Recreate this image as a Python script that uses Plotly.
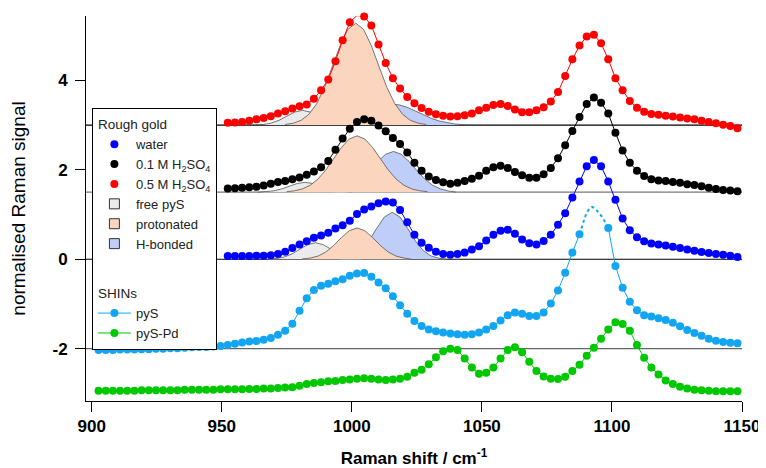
import plotly.graph_objects as go

# ---------------- data ----------------
STEP = 2.76
x_rough = [round(952.3 + STEP * i, 2) for i in range(72)]
x_shins = [round(902.62 + STEP * i, 2) for i in range(90)]

# Rough gold spectra (offset already included)
water = [0.07, 0.07, 0.07, 0.07, 0.08, 0.08, 0.09, 0.12, 0.17, 0.25, 0.33, 0.40,
         0.48, 0.53, 0.59, 0.69, 0.76, 0.86, 1.01, 1.11, 1.18, 1.25, 1.29, 1.27,
         1.10, 0.83, 0.55, 0.37, 0.26, 0.17, 0.12, 0.10, 0.12, 0.15, 0.22, 0.29,
         0.42, 0.55, 0.64, 0.66, 0.57, 0.44, 0.36, 0.33, 0.41, 0.55, 0.77, 1.03,
         1.38, 1.74, 2.08, 2.22, 2.08, 1.74, 1.33, 0.91, 0.65, 0.49, 0.40, 0.35,
         0.33, 0.31, 0.28, 0.25, 0.22, 0.19, 0.16, 0.14, 0.12, 0.10, 0.08, 0.05]
h2so4_01 = [1.58, 1.59, 1.60, 1.61, 1.62, 1.65, 1.69, 1.73, 1.75, 1.79, 1.83, 1.89,
            1.96, 2.06, 2.20, 2.45, 2.70, 2.92, 3.07, 3.13, 3.10, 2.99, 2.86, 2.71,
            2.58, 2.39, 2.16, 1.98, 1.85, 1.77, 1.72, 1.69, 1.71, 1.75, 1.80, 1.87,
            1.98, 2.06, 2.09, 2.04, 1.95, 1.88, 1.82, 1.82, 1.90, 2.04, 2.26, 2.55,
            2.87, 3.18, 3.47, 3.62, 3.50, 3.26, 2.83, 2.43, 2.16, 1.98, 1.86, 1.79,
            1.76, 1.75, 1.73, 1.71, 1.68, 1.66, 1.63, 1.60, 1.57, 1.55, 1.54, 1.52]
h2so4_05 = [3.05, 3.06, 3.07, 3.10, 3.13, 3.16, 3.20, 3.26, 3.31, 3.37, 3.42, 3.46,
            3.59, 3.78, 4.02, 4.43, 4.90, 5.30, 5.45, 5.43, 5.23, 4.80, 4.39, 4.05,
            3.82, 3.63, 3.49, 3.38, 3.30, 3.24, 3.21, 3.19, 3.20, 3.22, 3.26, 3.33,
            3.39, 3.45, 3.47, 3.43, 3.35, 3.29, 3.29, 3.33, 3.40, 3.53, 3.74, 4.10,
            4.47, 4.78, 4.98, 5.02, 4.83, 4.47, 4.05, 3.78, 3.54, 3.39, 3.30, 3.25,
            3.23, 3.21, 3.19, 3.17, 3.15, 3.13, 3.10, 3.07, 3.04, 3.01, 2.98, 2.93]

# SHINs spectra
pys = [-2.03, -2.03, -2.03, -2.02, -2.02, -2.02, -2.01, -2.01, -2.00, -2.00,
       -1.99, -1.99, -1.98, -1.97, -1.96, -1.96, -1.95, -1.94, -1.92, -1.89,
       -1.86, -1.84, -1.83, -1.80, -1.76, -1.69, -1.60, -1.44, -1.15, -0.87,
       -0.69, -0.59, -0.55, -0.49, -0.45, -0.37, -0.32, -0.31, -0.39, -0.52,
       -0.65, -0.83, -1.03, -1.22, -1.38, -1.49, -1.57, -1.61, -1.64, -1.66,
       -1.68, -1.69, -1.68, -1.64, -1.57, -1.49, -1.37, -1.25, -1.19, -1.22,
       -1.27, -1.27, -1.19, -0.99, -0.70, -0.30, 0.15, 0.56, None, None,
       None, 0.70, -0.15, -0.64, -0.95, -1.14, -1.25, -1.28, -1.32, -1.36,
       -1.42, -1.50, -1.58, -1.65, -1.71, -1.78, -1.82, -1.85, -1.87, -1.88]
pys_peak_x = [1087.54, 1088.8, 1090.1, 1091.3, 1092.4, 1093.5, 1094.6, 1095.9, 1097.2, 1098.58]
pys_peak_y = [0.56, 0.80, 1.02, 1.13, 1.17, 1.14, 1.07, 0.97, 0.85, 0.70]
pys_pd = [-2.94, -2.94, -2.94, -2.94, -2.94, -2.94, -2.93, -2.93, -2.93, -2.93,
          -2.93, -2.93, -2.92, -2.92, -2.92, -2.92, -2.92, -2.91, -2.91, -2.91,
          -2.91, -2.90, -2.90, -2.89, -2.89, -2.88, -2.87, -2.86, -2.83, -2.79,
          -2.77, -2.75, -2.73, -2.72, -2.70, -2.69, -2.67, -2.66, -2.67, -2.69,
          -2.70, -2.69, -2.67, -2.63, -2.54, -2.47, -2.35, -2.19, -2.06, -2.00,
          -2.03, -2.22, -2.42, -2.56, -2.54, -2.42, -2.22, -2.03, -1.97, -2.08,
          -2.29, -2.50, -2.62, -2.67, -2.68, -2.63, -2.50, -2.36, -2.16, -1.98,
          -1.78, -1.57, -1.41, -1.45, -1.60, -1.92, -2.20, -2.42, -2.58, -2.71,
          -2.79, -2.85, -2.89, -2.92, -2.93, -2.94, -2.95, -2.95, -2.95, -2.95]

# baselines of the stacked spectra
baselines = [3.0, 1.5, 0.0, -2.0]
baseline_colors = ["#000000", "#777777", "#000000", "#666666"]

# fitted components (height above each spectrum's baseline)
red_free_x = [963 + 3 * i for i in range(13)]
red_free_y = [0.004, 0.015, 0.045, 0.107, 0.200, 0.291, 0.33, 0.291, 0.200, 0.107, 0.045, 0.015, 0.004]
red_prot_x = [974.5 + 3 * i for i in range(19)]
red_prot_y = [0.015, 0.042, 0.107, 0.242, 0.481, 0.841, 1.302, 1.778, 2.143, 2.28,
              2.143, 1.778, 1.302, 0.841, 0.481, 0.242, 0.107, 0.042, 0.015]
red_hb_x = [985.5 + 3 * i for i in range(21)]
red_hb_y = [0.005, 0.012, 0.026, 0.052, 0.093, 0.153, 0.229, 0.313, 0.392, 0.449, 0.47,
            0.449, 0.392, 0.313, 0.229, 0.153, 0.093, 0.052, 0.026, 0.012, 0.005]

blk_free_x = [964 + 3 * i for i in range(13)]
blk_free_y = [0.002, 0.010, 0.030, 0.072, 0.134, 0.194, 0.22, 0.194, 0.134, 0.072, 0.030, 0.010, 0.002]
blk_prot_x = [975 + 3 * i for i in range(19)]
blk_prot_y = [0.011, 0.031, 0.073, 0.155, 0.295, 0.498, 0.747, 0.999, 1.189, 1.26,
              1.189, 0.999, 0.747, 0.498, 0.295, 0.155, 0.073, 0.031, 0.011]
blk_hb_x = [992 + 3 * i for i in range(17)]
blk_hb_y = [0.010, 0.029, 0.073, 0.157, 0.296, 0.483, 0.687, 0.848, 0.91,
            0.848, 0.687, 0.483, 0.296, 0.157, 0.073, 0.029, 0.010]

wat_free_x = [968 + 3 * i for i in range(13)]
wat_free_y = [0.004, 0.016, 0.050, 0.120, 0.225, 0.326, 0.37, 0.326, 0.225, 0.120, 0.050, 0.016, 0.004]
wat_prot_x = [981 + 3 * i for i in range(15)]
wat_prot_y = [0.008, 0.026, 0.071, 0.161, 0.307, 0.485, 0.638, 0.70, 0.638, 0.485,
              0.307, 0.161, 0.071, 0.026, 0.008]
wat_hb_x = [994.5 + 3 * i for i in range(15)]
wat_hb_y = [0.005, 0.023, 0.074, 0.191, 0.402, 0.686, 0.944, 1.05, 0.944, 0.686,
            0.402, 0.191, 0.074, 0.023, 0.005]

# ---------------- styling ----------------
FONT = "Liberation Sans, Arial, sans-serif"
C_FREE, C_PROT, C_HB = "#EBEBEB", "#FCD5BF", "#BFCEF8"
C_EDGE = "#555555"
C_WATER, C_01, C_05 = "#0000FF", "#000000", "#FF0000"
C_PYS, C_PYSPD = "#12A6F2", "#00C800"

fig = go.Figure()

# legend-only entries for the rough gold group
legend_items = [
    ("water", "circle", C_WATER, None, 8),
    ("0.1 M H<sub>2</sub>SO<sub>4</sub>", "circle", C_01, None, 8),
    ("0.5 M H<sub>2</sub>SO<sub>4</sub>", "circle", C_05, None, 8),
    ("free pyS", "square", C_FREE, "#333333", 10),
    ("protonated", "square", C_PROT, "#333333", 10),
    ("H-bonded", "square", C_HB, "#333333", 10),
]
for k, (name, sym, col, edge, sz) in enumerate(legend_items):
    fig.add_trace(go.Scatter(
        x=[None], y=[None], mode="markers", name=name,
        marker=dict(symbol=sym, color=col, size=sz,
                    line=dict(color=edge or col, width=1 if edge else 0)),
        legendgroup="rough", legendgrouptitle_text="Rough gold" if k == 0 else None,
        legendrank=k + 1, showlegend=True))

# fitted component fills
def add_component(xs, ys, base, color):
    px = [xs[0]] + list(xs) + [xs[-1]]
    py = [base] + [base + v for v in ys] + [base]
    fig.add_trace(go.Scatter(x=px, y=py, mode="lines", fill="toself",
                             fillcolor=color, line=dict(color=C_EDGE, width=0.8),
                             showlegend=False, hoverinfo="skip"))

for base, comps in [
    (3.0, [(red_free_x, red_free_y, C_FREE), (red_hb_x, red_hb_y, C_HB), (red_prot_x, red_prot_y, C_PROT)]),
    (1.5, [(blk_free_x, blk_free_y, C_FREE), (blk_hb_x, blk_hb_y, C_HB), (blk_prot_x, blk_prot_y, C_PROT)]),
    (0.0, [(wat_free_x, wat_free_y, C_FREE), (wat_hb_x, wat_hb_y, C_HB), (wat_prot_x, wat_prot_y, C_PROT)]),
]:
    for xs, ys, col in comps:
        add_component(xs, ys, base, col)

# rough gold spectra
for ys, col in [(water, C_WATER), (h2so4_01, C_01), (h2so4_05, C_05)]:
    fig.add_trace(go.Scatter(x=x_rough, y=ys, mode="lines+markers",
                             line=dict(color=col, width=1),
                             marker=dict(color=col, size=8),
                             showlegend=False, cliponaxis=False))

# SHINs spectra
fig.add_trace(go.Scatter(x=pys_peak_x, y=pys_peak_y, mode="lines",
                         line=dict(color=C_PYS, width=2, dash="dot"),
                         showlegend=False, cliponaxis=False))
fig.add_trace(go.Scatter(x=x_shins, y=pys, mode="lines+markers", name="pyS",
                         line=dict(color=C_PYS, width=1), marker=dict(color=C_PYS, size=8),
                         connectgaps=False, legendgroup="shins",
                         legendgrouptitle_text="SHINs", legendrank=7, cliponaxis=False))
fig.add_trace(go.Scatter(x=x_shins, y=pys_pd, mode="lines+markers", name="pyS-Pd",
                         line=dict(color=C_PYSPD, width=1), marker=dict(color=C_PYSPD, size=8),
                         legendgroup="shins", legendrank=8, cliponaxis=False))

shapes = [dict(type="line", xref="paper", yref="y", x0=0, x1=1, y0=b, y1=b,
               line=dict(color=c, width=1.2), layer="below")
          for b, c in zip(baselines, baseline_colors)]

# the page body adds an 8 px offset, so the figure is 8 px smaller with 8 px less margin
fig.update_layout(
    width=758, height=460,
    margin=dict(l=78, r=24, t=8, b=67, autoexpand=False),
    paper_bgcolor="white", plot_bgcolor="white",
    font=dict(family=FONT, color="#000000"),
    shapes=shapes,
    showlegend=True,
    legend=dict(x=0.009, y=0.762, xanchor="left", yanchor="top",
                bgcolor="white", bordercolor="#000000", borderwidth=1,
                font=dict(family=FONT, size=13, color="#222222"),
                grouptitlefont=dict(family=FONT, size=13.5, color="#222222"),
                tracegroupgap=29, itemwidth=33, traceorder="grouped"),
    xaxis=dict(range=[897.8, 1150], tickmode="array", automargin=False,
               tickvals=[900, 950, 1000, 1050, 1100, 1150],
               ticks="outside", ticklen=10, tickwidth=1, tickcolor="#000000",
               showline=True, linecolor="#000000", linewidth=1,
               showgrid=False, zeroline=False,
               tickfont=dict(family=FONT, size=17, weight="bold"),
               title=dict(text="Raman shift / cm<sup>-1</sup>",
                          font=dict(family=FONT, size=17, weight="bold"), standoff=18)),
    yaxis=dict(range=[-3.17, 5.44], tickmode="array", automargin=False,
               tickvals=[-2, 0, 2, 4], ticktext=["-2", "0", "2", "4"],
               ticks="outside", ticklen=10, tickwidth=1, tickcolor="#000000",
               showline=True, linecolor="#000000", linewidth=1,
               showgrid=False, zeroline=False, ticklabelstandoff=4,
               tickfont=dict(family=FONT, size=17, weight="bold"),
               title=dict(text="normalised Raman signal",
                          font=dict(family=FONT, size=19), standoff=25)),
)

fig.write_html("out.html")
